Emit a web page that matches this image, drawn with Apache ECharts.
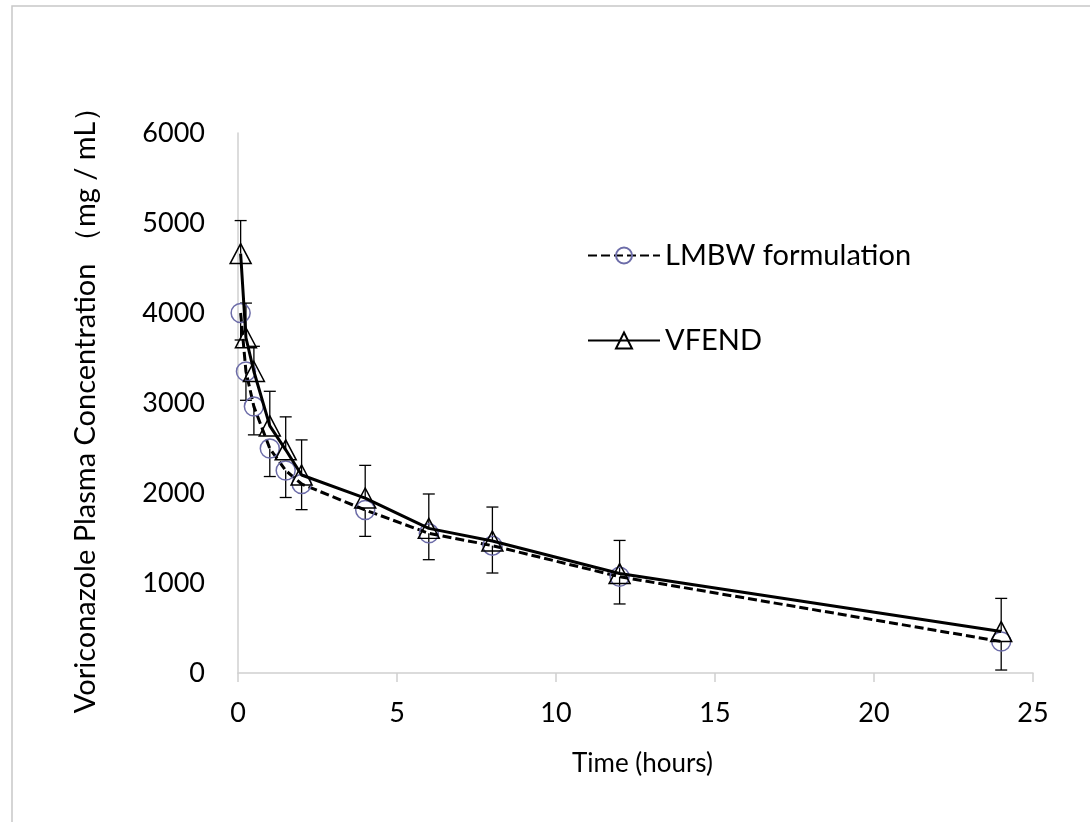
<!doctype html>
<html lang="en">

<head>
  <meta charset="UTF-8">
  <title>Voriconazole plasma concentration</title>
  <style>
    * {
      margin: 0;
      padding: 0;
      box-sizing: border-box;
    }

    html,
    body {
      width: 100%;
      height: 100%;
      background: #ffffff;
    }

    #main {
      width: 1090px;
      height: 822px;
    }
  </style>
</head>

<body>
  <div id="main"></div>
</body>

</html>
<script src="https://cdn.jsdelivr.net/npm/echarts@6/dist/echarts.min.js"></script>
<script>
  // sampling times (hours)
  let times = [0.083, 0.25, 0.5, 1, 1.5, 2, 4, 6, 8, 12, 24]
  // mean concentrations
  let lmbw = [4000, 3350, 2960, 2495, 2250, 2100, 1811, 1552, 1415, 1070, 350]
  let vfend = [4660, 3725, 3350, 2745, 2480, 2200, 1944, 1607, 1467, 1105, 460]
  // SD, drawn downward for LMBW and upward for VFEND
  let lmbwSd = [300, 320, 314, 312, 300, 285, 293, 293, 304, 303, 317]
  let vfendSd = [367, 385, 280, 385, 366, 390, 363, 382, 377, 368, 369]

  let yTicks = [0, 1000, 2000, 3000, 4000, 5000, 6000]
  let xTicks = [0, 5, 10, 15, 20, 25]

  let font = 'Lato'

  function pairs(xs, ys) {
    return xs.map(function (x, i) { return [x, ys[i]] })
  }

  let lmbwErr = times.map(function (t, i) { return [t, lmbw[i] - lmbwSd[i], lmbw[i]] })
  let vfendErr = times.map(function (t, i) { return [t, vfend[i], vfend[i] + vfendSd[i]] })

  // cap: 'low' or 'high' end of the bar
  function makeBar(cap) {
    return function (params, api) {
      let lo = api.coord([api.value(0), api.value(1)])
      let hi = api.coord([api.value(0), api.value(2)])
      let end = cap === 'low' ? lo : hi
      let w = 6
      let style = { stroke: '#000', lineWidth: 1.3 }
      return {
        type: 'group',
        children: [
          { type: 'line', shape: { x1: lo[0], y1: lo[1], x2: hi[0], y2: hi[1] }, style: style },
          { type: 'line', shape: { x1: end[0] - w, y1: end[1], x2: end[0] + w, y2: end[1] }, style: style }
        ]
      }
    }
  }

  let myChart = echarts.init(document.getElementById('main'), null, { renderer: 'canvas' })
  let option = {
    animation: false,
    backgroundColor: '#ffffff',
    graphic: [{
      type: 'rect',
      shape: { x: 12, y: 6, width: 1200, height: 1000 },
      style: { fill: 'none', stroke: '#c8c8c8', lineWidth: 1.5 },
      silent: true
    }],
    grid: {
      left: 238,
      right: 57,
      top: 133,
      bottom: 149
    },
    legend: {
      orient: 'vertical',
      left: 582,
      top: 236,
      itemGap: 56,
      itemWidth: 72,
      itemHeight: 20,
      textStyle: {
        fontFamily: font,
        fontSize: 29,
        color: '#000'
      },
      data: ['LMBW formulation', 'VFEND']
    },
    xAxis: {
      type: 'value',
      min: 0,
      max: 25,
      interval: 5,
      name: 'Time (hours)',
      nameLocation: 'middle',
      nameGap: 78,
      nameTextStyle: {
        fontFamily: font,
        fontSize: 26,
        color: '#000',
        padding: [0, 0, 0, 14]
      },
      axisLine: { lineStyle: { color: '#d0d0d0', width: 1.5 } },
      axisTick: { show: true, length: 9, lineStyle: { color: '#d0d0d0', width: 1.5 } },
      splitLine: { show: false },
      axisLabel: {
        margin: 27,
        fontFamily: font,
        fontSize: 27,
        color: '#000',
        customValues: xTicks
      }
    },
    yAxis: {
      type: 'value',
      min: 0,
      max: 6000,
      interval: 1000,
      name: 'Voriconazole Plasma Concentration （mg / mL）',
      nameLocation: 'middle',
      nameGap: 138,
      nameTextStyle: {
        fontFamily: font,
        fontSize: 29,
        color: '#000'
      },
      axisLine: { show: true, lineStyle: { color: '#d0d0d0', width: 1.5 } },
      axisTick: { show: false },
      splitLine: { show: false },
      axisLabel: {
        margin: 33,
        fontFamily: font,
        fontSize: 27,
        color: '#000',
        customValues: yTicks,
        formatter: function (v) { return String(v) }
      }
    },
    series: [
      {
        name: 'lmbwErr',
        type: 'custom',
        renderItem: makeBar('low'),
        encode: { x: 0, y: [1, 2] },
        data: lmbwErr,
        z: 1
      },
      {
        name: 'vfendErr',
        type: 'custom',
        renderItem: makeBar('high'),
        encode: { x: 0, y: [1, 2] },
        data: vfendErr,
        z: 1
      },
      {
        name: 'LMBW formulation',
        type: 'line',
        symbol: 'circle',
        symbolSize: 19,
        lineStyle: { color: '#000', width: 3, type: [9, 4] },
        itemStyle: { color: 'rgba(255,255,255,0)', borderColor: '#6c6ca8', borderWidth: 1.5 },
        data: pairs(times, lmbw),
        z: 3
      },
      {
        name: 'VFEND',
        type: 'line',
        symbol: 'triangle',
        symbolSize: [21, 20],
        lineStyle: { color: '#000', width: 3, type: 'solid' },
        itemStyle: { color: 'rgba(255,255,255,0)', borderColor: '#000', borderWidth: 1.5 },
        data: pairs(times, vfend),
        z: 4
      }
    ]
  }
  myChart.setOption(option)
</script>
